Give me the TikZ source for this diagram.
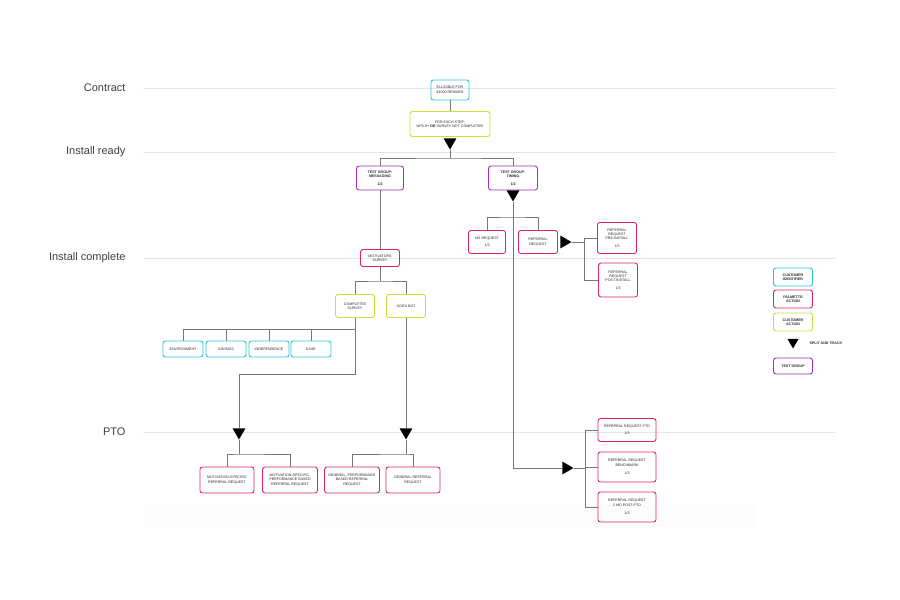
\documentclass[tikz,border=0pt]{standalone}
\usepackage{fontspec}
\setmainfont{Liberation Sans}
\usetikzlibrary{shapes.geometric}
\definecolor{cid}{HTML}{2BC6D6}
\definecolor{pal}{HTML}{E0226E}
\definecolor{cact}{HTML}{C8E03A}
\definecolor{tgc}{HTML}{A030C0}
\definecolor{ln}{HTML}{777777}
\begin{document}
\begin{tikzpicture}[x=1pt,y=-1pt,
 box/.style={draw,rounded corners=2.5pt,line width=0.9pt,align=center,inner sep=0pt,font=\fontsize{3.6}{4.4}\selectfont,text=black!85},
 ci/.style={box,draw=cid},pa/.style={box,draw=pal},ca/.style={box,draw=cact},tg/.style={box,draw=tgc,font=\fontsize{3.6}{4.4}\selectfont\bfseries},
 tri/.style={regular polygon,regular polygon sides=3,fill=black,inner sep=0pt,minimum size=15pt,shape border rotate=180},
 trir/.style={tri,shape border rotate=-90},
 c/.style={draw=ln,line width=0.6pt},
 lab/.style={anchor=east,font=\fontsize{11}{13}\selectfont,text=black!75}]
\useasboundingbox (0,0) rectangle (900,600);
\fill[black!1.2] (143,505) rectangle (755,527);
\foreach \y/\t in {88/Contract,152/Install ready,258/Install complete,432/PTO}{
 \draw[black!10,line width=0.6pt] (143,\y) -- (835,\y);
 \node[lab] at (129,\y) {\t};}
% nodes
\node[ci,minimum width=38pt,minimum height=20pt] (elig) at (450,90) {ELLIGIBLE FOR\\\$1000 REWARD};
\node[ca,minimum width=80pt,minimum height=25pt] (fe) at (450,124) {FOR EACH STEP:\\NPS 8+ \textbf{OR} SURVEY NOT COMPLETED};
\node[tri] (t0) at (450,142) {};
\node[tg,minimum width=47pt,minimum height=24pt] (tg1) at (380,178) {TEST GROUP:\\MESSAGING\\[3pt]1/2};
\node[tg,minimum width=49pt,minimum height=24pt] (tg2) at (513,178) {TEST GROUP:\\TIMING\\[3pt]1/2};
\node[tri] (t2) at (513,194) {};
\node[pa,minimum width=37pt,minimum height=23pt] (nr) at (487,242) {NO REQUEST\\[3pt]1/3};
\node[pa,minimum width=39pt,minimum height=23pt] (rr) at (538,242) {REFERRAL\\REQUEST};
\node[trir] (t3) at (564,242) {};
\node[pa,minimum width=39pt,minimum height=31pt] (pre) at (617,238) {REFERRAL\\REQUEST\\PRE-INSTALL\\[3pt]1/3};
\node[pa,minimum width=39pt,minimum height=34pt] (post) at (618,280) {REFERRAL\\REQUEST\\POST-INSTALL\\[3pt]1/3};
\node[pa,minimum width=39pt,minimum height=17pt] (ms) at (380,258) {MOTIVATORS\\SURVEY};
\node[ca,minimum width=39pt,minimum height=23pt] (cs) at (355,306) {COMPLETES\\SURVEY};
\node[ca,minimum width=39pt,minimum height=23pt] (gn) at (406,306) {GOES NOT};
\foreach \n/\x/\t in {env/183/ENVIRONMENT,sav/226/SAVINGS,ind/269/INDEPENDENCE,eas/311/EASE}
 \node[ci,minimum width=40pt,minimum height=16pt] (\n) at (\x,349) {\t};
\node[tri] (t4) at (239,432) {};
\node[tri] (t5) at (406,432) {};
\node[pa,minimum width=54pt,minimum height=26pt] (m1) at (227,480) {MOTIVATION-SPECIFIC\\REFERRAL REQUEST};
\node[pa,minimum width=55pt,minimum height=26pt] (m2) at (290,480) {MOTIVATION-SPECIFIC,\\PERFORMANCE BASED\\REFERRAL REQUEST};
\node[pa,minimum width=55pt,minimum height=26pt] (g1) at (352,480) {GENERAL, PERFORMANCE\\BASED REFERRAL\\REQUEST};
\node[pa,minimum width=54pt,minimum height=26pt] (g2) at (413,480) {GENERAL REFERRAL\\REQUEST};
\node[trir] (t6) at (566,468) {};
\node[pa,minimum width=58pt,minimum height=23pt] (p1) at (627,430) {REFERRAL REQUEST PTO\\[3pt]1/3};
\node[pa,minimum width=58pt,minimum height=30pt] (p2) at (627,467) {REFERRAL REQUEST\\BENCHMARK\\[4pt]1/3};
\node[pa,minimum width=58pt,minimum height=30pt] (p3) at (627,507) {REFERRAL REQUEST\\2 MO POST-PTO\\[4pt]1/3};
% legend
\node[ci,minimum width=39pt,minimum height=18pt,font=\fontsize{3.6}{4.4}\selectfont\bfseries] (l1) at (793,277) {CUSTOMER\\IDENTIFIER};
\node[pa,minimum width=39pt,minimum height=18pt,font=\fontsize{3.6}{4.4}\selectfont\bfseries] (l2) at (793,299) {PALMETTO\\ACTION};
\node[ca,minimum width=39pt,minimum height=18pt,font=\fontsize{3.6}{4.4}\selectfont\bfseries] (l3) at (793,322) {CUSTOMER\\ACTION};
\node[tri,minimum size=13pt] (l4) at (793,342) {};
\node[anchor=west,font=\fontsize{3.6}{4.4}\selectfont\bfseries,text=black!85] (l4t) at (806,343) {SPLIT AND TRACK};
\node[tg,minimum width=39pt,minimum height=16pt] (l5) at (793,366) {TEST GROUP};
% connectors
\draw[c] (elig) -- (fe);
\draw[c] (t0.south) -- (450,158) coordinate (b0);
\draw[c] (tg1.north) |- (b0) -| (tg2.north);
\draw[c] (tg1.south) -- (ms.north);
\draw[c] (t2.south) -- (513,468) coordinate (k1) -- (t6.west);
\draw[c] (nr.north) |- (513,217) -| (rr.north);
\draw[c] (t3.east) -- (584,242);
\draw[c] (584,238) -- (pre.west);
\draw[c] (584,238) |- (post.west);
\draw[c] (ms.south) -- (380,281) coordinate (b1);
\draw[c] (cs.north) |- (b1) -| (gn.north);
\draw[c] (cs.south) -- (355,329) coordinate (b2);
\draw[c] (env.north) |- (b2);
\foreach \n in {sav,ind,eas} \draw[c] (\n.north) -- (\n.north|-b2);
\draw[c] (b2) -- (355,374) -| (t4.north);
\draw[c] (gn.south) -- (t5.north);
\draw[c] (t4.south) -- (239,454) coordinate (b3);
\draw[c] (m1.north) |- (b3) -| (m2.north);
\draw[c] (t5.south) -- (406,454) coordinate (b4);
\draw[c] (g1.north) |- (b4) -| (g2.north);
\draw[c] (t6.east) -- (585,468);
\draw[c] (p1.west) -| (585,507) -- (p3.west);
\draw[c] (585,467) -- (p2.west);
\end{tikzpicture}
\end{document}
